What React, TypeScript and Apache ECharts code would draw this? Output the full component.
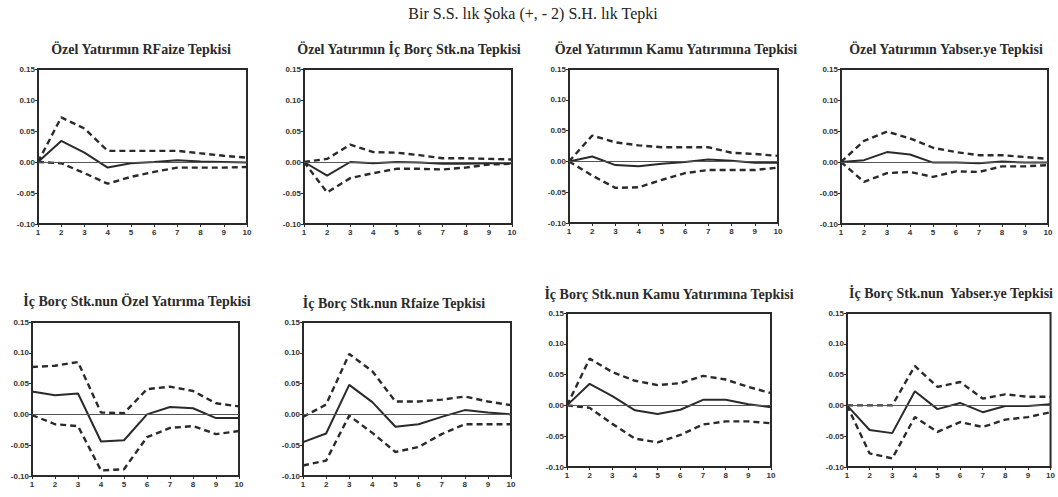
import React, { useEffect, useRef } from 'react';
import * as echarts from 'echarts';

const periods = ['1', '2', '3', '4', '5', '6', '7', '8', '9', '10'];
const mainTitle = 'Bir S.S. lık Şoka (+, - 2) S.H. lık Tepki';
const panelTitles = [
  'Özel Yatırımın RFaize Tepkisi',
  'Özel Yatırımın İç Borç Stk.na Tepkisi',
  'Özel Yatırımın Kamu Yatırımına Tepkisi',
  'Özel Yatırımın Yabser.ye Tepkisi',
  'İç Borç Stk.nun Özel Yatırıma Tepkisi',
  'İç Borç Stk.nun Rfaize Tepkisi',
  'İç Borç Stk.nun Kamu Yatırımına Tepkisi',
  'İç Borç Stk.nun  Yabser.ye Tepkisi',
];

const p1Resp = [0, 0.034, 0.015, -0.009, -0.002, 0.0, 0.003, 0.001, 0.0, -0.001];
const p1Upper = [0, 0.072, 0.054, 0.018, 0.018, 0.018, 0.018, 0.014, 0.01, 0.007];
const p1Lower = [0, -0.002, -0.018, -0.035, -0.024, -0.016, -0.009, -0.009, -0.009, -0.008];

const p2Resp = [0, -0.022, 0.0, -0.002, 0.0, -0.001, -0.003, -0.003, -0.002, -0.002];
const p2Upper = [0, 0.005, 0.028, 0.016, 0.015, 0.011, 0.006, 0.006, 0.005, 0.004];
const p2Lower = [0, -0.049, -0.026, -0.018, -0.011, -0.011, -0.012, -0.009, -0.004, -0.003];

const p3Resp = [0, 0.008, -0.006, -0.008, -0.004, -0.001, 0.003, 0.001, -0.002, -0.002];
const p3Upper = [0, 0.042, 0.031, 0.026, 0.023, 0.023, 0.023, 0.014, 0.012, 0.009];
const p3Lower = [0, -0.023, -0.043, -0.042, -0.03, -0.019, -0.014, -0.014, -0.014, -0.01];

const p4Resp = [0, 0.003, 0.016, 0.012, -0.001, -0.001, -0.002, 0.001, -0.001, -0.001];
const p4Upper = [0, 0.034, 0.049, 0.038, 0.023, 0.016, 0.011, 0.011, 0.008, 0.005];
const p4Lower = [0, -0.032, -0.018, -0.016, -0.024, -0.015, -0.016, -0.007, -0.007, -0.005];

const p5Resp = [0.037, 0.031, 0.034, -0.044, -0.042, 0.0, 0.012, 0.01, -0.006, -0.006];
const p5Upper = [0.077, 0.079, 0.085, 0.003, 0.002, 0.041, 0.045, 0.038, 0.018, 0.013];
const p5Lower = [-0.001, -0.016, -0.019, -0.091, -0.089, -0.037, -0.022, -0.019, -0.032, -0.027];

const p6Resp = [-0.045, -0.031, 0.048, 0.02, -0.02, -0.016, -0.004, 0.007, 0.003, 0.0];
const p6Upper = [-0.004, 0.016, 0.098, 0.07, 0.021, 0.021, 0.024, 0.029, 0.021, 0.015];
const p6Lower = [-0.083, -0.075, -0.002, -0.03, -0.061, -0.053, -0.032, -0.016, -0.016, -0.016];

const p7Resp = [0, 0.035, 0.015, -0.008, -0.014, -0.007, 0.009, 0.009, 0.002, -0.003];
const p7Upper = [0, 0.076, 0.054, 0.04, 0.033, 0.036, 0.048, 0.042, 0.03, 0.02];
const p7Lower = [0, -0.004, -0.03, -0.054, -0.06, -0.048, -0.031, -0.026, -0.026, -0.029];

const p8Resp = [0, -0.04, -0.045, 0.023, -0.006, 0.004, -0.011, -0.001, -0.001, 0.002];
const p8Upper = [0, 0.0, 0.0, 0.064, 0.03, 0.038, 0.011, 0.018, 0.014, 0.014];
const p8Lower = [0, -0.078, -0.086, -0.019, -0.043, -0.027, -0.035, -0.023, -0.019, -0.011];

const responses = [p1Resp, p2Resp, p3Resp, p4Resp, p5Resp, p6Resp, p7Resp, p8Resp];
const uppers = [p1Upper, p2Upper, p3Upper, p4Upper, p5Upper, p6Upper, p7Upper, p8Upper];
const lowers = [p1Lower, p2Lower, p3Lower, p4Lower, p5Lower, p6Lower, p7Lower, p8Lower];

// layout: grid boxes and title centres
const grids = [
  { left: 38, top: 69, width: 209, height: 155, tx: 141, ty: 49 },
  { left: 304, top: 69, width: 208, height: 155, tx: 409, ty: 49 },
  { left: 569, top: 69, width: 209, height: 154, tx: 676, ty: 49 },
  { left: 841, top: 69, width: 207, height: 155, tx: 946, ty: 49 },
  { left: 32, top: 322, width: 207, height: 154, tx: 137, ty: 301 },
  { left: 303, top: 322, width: 208, height: 154, tx: 394, ty: 303 },
  { left: 567, top: 313, width: 204, height: 154, tx: 669, ty: 294 },
  { left: 847, top: 313, width: 206, height: 154, tx: 951, ty: 293 },
];

const INK = '#2a2a2a';

export default function App() {
  const ref = useRef<HTMLDivElement>(null);
  useEffect(() => {
    if (!ref.current) return;
    const chart = echarts.init(ref.current, undefined, { renderer: 'svg' });
    const labelStyle = {
      fontSize: 8,
      fontWeight: 'bold' as const,
      color: '#333333',
      fontFamily: 'Liberation Sans, Arial, sans-serif',
    };
    const series: any[] = [];
    responses.forEach((resp, i) => {
      series.push({
        type: 'line',
        xAxisIndex: i,
        yAxisIndex: i,
        data: uppers[i],
        symbol: 'none',
        lineStyle: { color: INK, width: 2.4, type: [6, 4] },
        silent: true,
      });
      series.push({
        type: 'line',
        xAxisIndex: i,
        yAxisIndex: i,
        data: lowers[i],
        symbol: 'none',
        lineStyle: { color: INK, width: 2.4, type: [6, 4] },
        silent: true,
      });
      series.push({
        type: 'line',
        xAxisIndex: i,
        yAxisIndex: i,
        data: resp,
        symbol: 'none',
        lineStyle: { color: INK, width: 2 },
        silent: true,
        markLine: {
          silent: true,
          symbol: ['none', 'none'],
          label: { show: false },
          lineStyle: { color: '#555', width: 1.2, type: 'solid' },
          data: [{ yAxis: 0 }],
        },
      });
    });
    const graphics: any[] = [
      {
        type: 'text',
        x: 533,
        y: 13,
        style: {
          text: mainTitle,
          font: '16px "Liberation Serif", serif',
          fill: '#222',
          textAlign: 'center',
          textVerticalAlign: 'middle',
        },
      },
    ];
    grids.forEach((g, i) => {
      graphics.push({
        type: 'text',
        x: g.tx,
        y: g.ty,
        style: {
          text: panelTitles[i],
          font: 'bold 14px "Liberation Serif", serif',
          fill: '#2a2a2a',
          textAlign: 'center',
          textVerticalAlign: 'middle',
        },
      });
    });
    chart.setOption({
      animation: false,
      backgroundColor: '#fff',
      grid: grids.map((g) => ({
        left: g.left,
        top: g.top,
        width: g.width,
        height: g.height,
        show: true,
        borderColor: INK,
        borderWidth: 2,
        backgroundColor: 'transparent',
      })),
      xAxis: grids.map((_, i) => ({
        type: 'category',
        gridIndex: i,
        data: periods,
        boundaryGap: false,
        axisLine: { onZero: false, lineStyle: { color: INK, width: 2 } },
        axisTick: { show: true, length: 3, alignWithLabel: true, lineStyle: { color: INK } },
        axisLabel: { ...labelStyle, margin: 4, interval: 0 },
        splitLine: { show: false },
      })),
      yAxis: grids.map((_, i) => ({
        type: 'value',
        gridIndex: i,
        min: -0.1,
        max: 0.15,
        interval: 0.05,
        axisLine: { show: true, lineStyle: { color: INK, width: 2 } },
        axisTick: { show: true, length: 3, lineStyle: { color: INK } },
        axisLabel: { ...labelStyle, margin: 3, formatter: (v: number) => v.toFixed(2) },
        splitLine: { show: false },
      })),
      graphic: graphics,
      series,
    });
    return () => chart.dispose();
  }, []);
  return (
    <div
      ref={ref}
      style={{ position: 'fixed', left: 0, top: 0, width: 1058, height: 497 }}
    />
  );
}
